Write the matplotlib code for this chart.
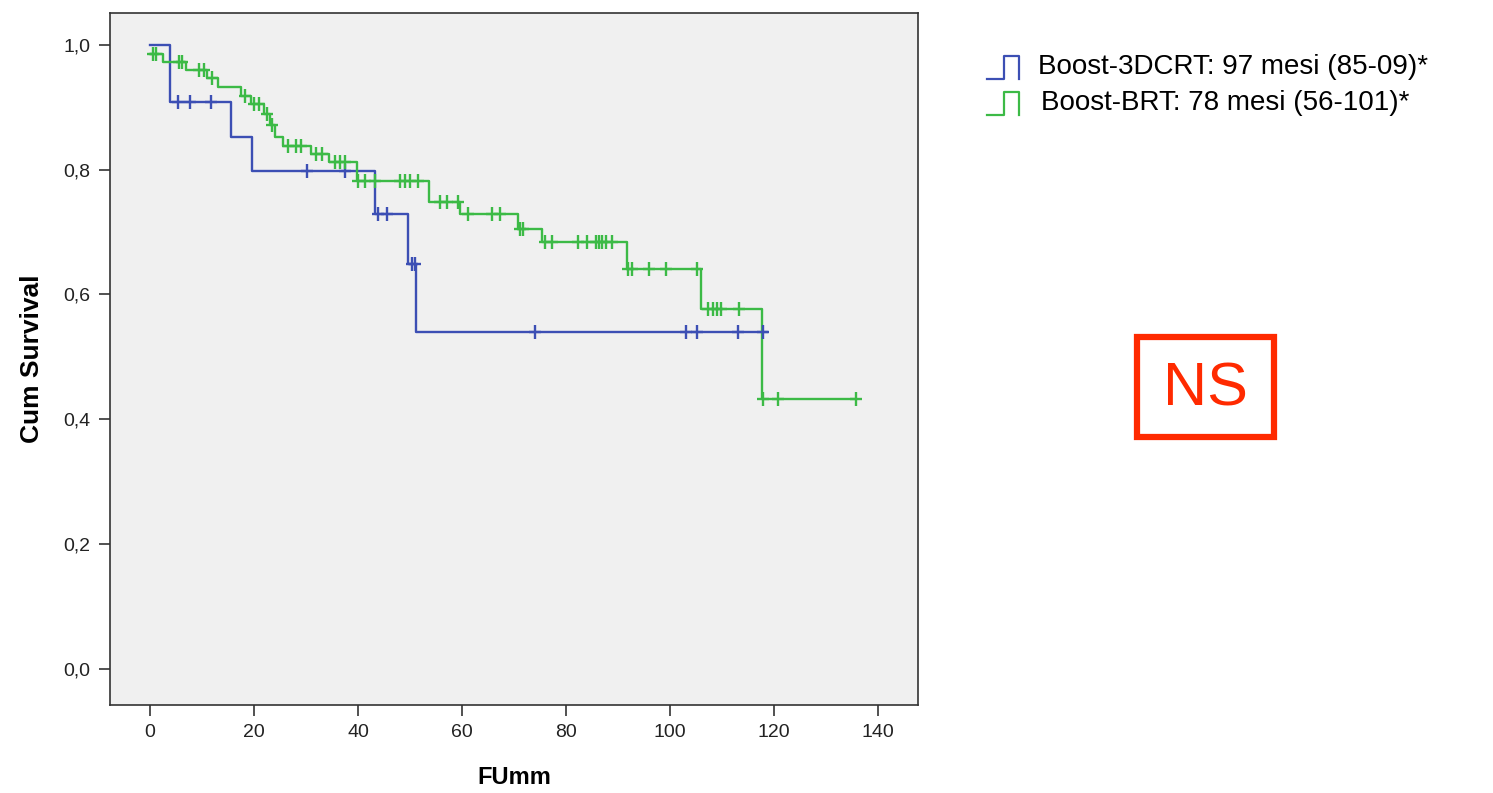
import numpy as np
import matplotlib
matplotlib.use("Agg")
import matplotlib.pyplot as plt
from matplotlib.lines import Line2D
from matplotlib.patches import Rectangle

plt.rcParams['font.family'] = ['Liberation Sans', 'DejaVu Sans']

# ---- data ----
blue_step_t = [0, 3.8, 15.6, 19.6, 43.3, 49.6, 51.2]
blue_step_s = [1.0, 0.909, 0.852, 0.797, 0.729, 0.648, 0.540]
blue_end = 118.7
blue_cens = [5.4, 7.7, 11.7, 30.2, 37.5, 43.8, 45.6, 50.4, 51.0, 74.0, 103.0, 105.2, 113.0, 117.9]

green_step_t = [0, 2.5, 7.0, 11.0, 13.0, 17.5, 19.5, 22.0, 23.0, 24.0, 25.5, 31.0, 34.5,
                39.8, 53.7, 59.6, 70.8, 75.4, 91.7, 106.0, 117.7]
green_step_s = [0.985, 0.972, 0.960, 0.947, 0.932, 0.918, 0.905, 0.889, 0.872, 0.852, 0.838,
                0.825, 0.812, 0.782, 0.748, 0.729, 0.705, 0.684, 0.640, 0.576, 0.432]
green_end = 135.8
green_cens = [0.5, 1.2, 5.5, 6.2, 9.5, 10.3, 12.0, 18.2, 20.0, 21.0, 22.5, 23.5, 26.5, 28.0,
              29.0, 32.0, 33.0, 35.5, 36.5, 37.5, 40.0, 41.3, 43.3, 48.0, 49.0, 50.0, 51.5,
              55.8, 57.1, 59.2, 61.2, 65.8, 67.3, 71.2, 71.7, 76.0, 77.3, 82.3, 84.0, 85.8,
              86.3, 86.9, 87.7, 88.8, 91.9, 92.7, 96.0, 99.2, 105.2, 107.3, 108.3, 109.0,
              109.8, 113.3, 117.9, 120.8, 135.8]

legend_labels = ["Boost-3DCRT: 97 mesi (85-09)*", "Boost-BRT: 78 mesi (56-101)*"]
xticks = [0, 20, 40, 60, 80, 100, 120, 140]
yticks = [0.0, 0.2, 0.4, 0.6, 0.8, 1.0]
ytick_labels = ["0,0", "0,2", "0,4", "0,6", "0,8", "1,0"]

BLUE = "#3c4fb4"
GREEN = "#3cba46"

fig = plt.figure(figsize=(14.93, 7.93), dpi=100)
ax = fig.add_axes([110/1493, 1-705/793, (918-110)/1493, (705-13)/793])
ax.set_facecolor("#f0f0f0")


def draw_km(ax, t, s, end, cens, color):
    xs = list(t) + [end]
    ys = list(s) + [s[-1]]
    ax.step(xs, ys, where="post", color=color, lw=1.7, zorder=3)
    t_arr = np.array(t)
    s_arr = np.array(s)
    cy = [s_arr[np.searchsorted(t_arr, c, side="right") - 1] for c in cens]
    ax.plot(cens, cy, ls="none", marker="|", ms=10, mew=1.7, color=color, zorder=4)
    ax.plot(cens, cy, ls="none", marker="_", ms=9, mew=1.7, color=color, zorder=4)


draw_km(ax, blue_step_t, blue_step_s, blue_end, blue_cens, BLUE)
draw_km(ax, green_step_t, green_step_s, green_end, green_cens, GREEN)

ax.set_xlim(-7.7, 147.7)
ax.set_ylim(-0.058, 1.051)
ax.set_xticks(xticks)
ax.set_xticklabels([str(v) for v in xticks], fontsize=14, color="#222222")
ax.set_yticks(yticks)
ax.set_yticklabels(ytick_labels, fontsize=14, color="#222222")
ax.tick_params(direction="out", length=8, width=1.2, color="#333333", pad=6)
for sp in ax.spines.values():
    sp.set_color("#333333")
    sp.set_linewidth(1.2)
ax.set_xlabel("FUmm", fontsize=17, fontweight="bold", labelpad=18)
ax.set_ylabel("Cum Survival", fontsize=19, fontweight="bold", labelpad=14)

# legend with step-shaped icons
def fx(px):
    return px / 1493

def fy(py):
    return 1 - py / 793

for (col, y0, lab, tx) in [(BLUE, 67, legend_labels[0], 1038), (GREEN, 103, legend_labels[1], 1041)]:
    xs = [fx(v) for v in [987, 1004, 1004, 1019, 1019]]
    ys = [fy(v) for v in [y0 + 12, y0 + 12, y0 - 11, y0 - 11, y0 + 12]]
    fig.add_artist(Line2D(xs, ys, color=col, lw=1.6))
    fig.text(fx(tx), fy(y0), lab, fontsize=20, va="center", ha="left", color="black")

# NS box
fig.add_artist(Rectangle((fx(1137), fy(437)), fx(1274) - fx(1137), fy(337) - fy(437),
                         fill=False, edgecolor="#ff2a00", lw=4.5))
fig.text(fx(1205), fy(390), "NS", fontsize=44, color="#ff2a00", ha="center", va="center")

fig.savefig("out.png", dpi=100)
